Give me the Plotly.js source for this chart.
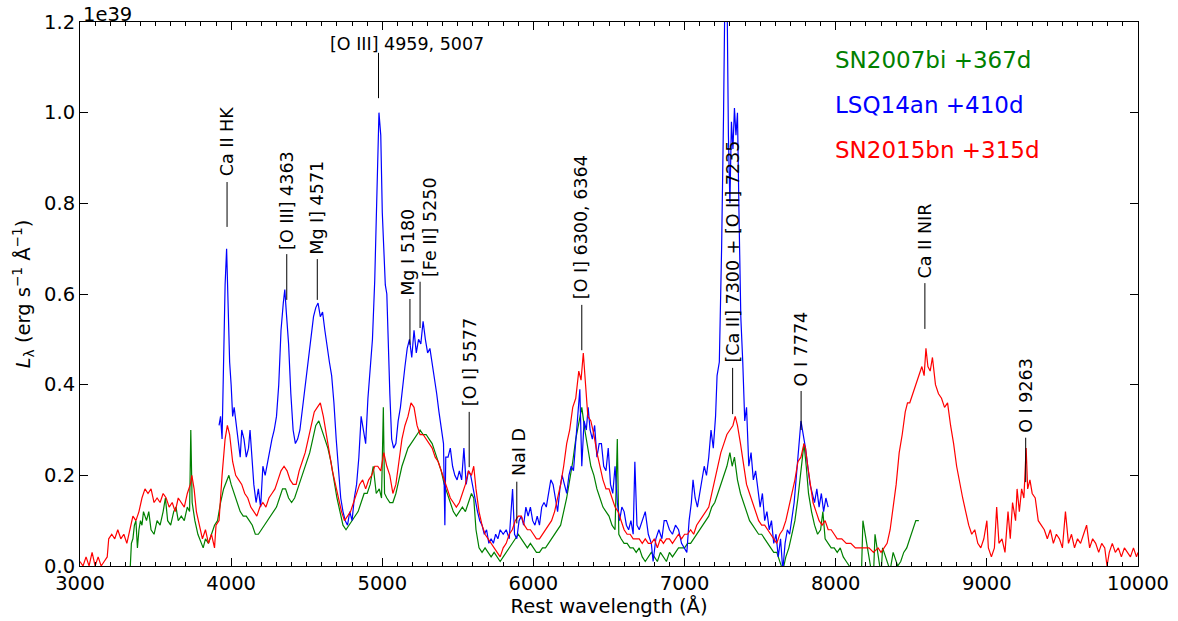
<!DOCTYPE html>
<html>
<head>
<meta charset="utf-8">
<script src="https://cdn.plot.ly/plotly-3.0.1.min.js"></script>
<style>html,body{margin:0;padding:0;background:#fff;}#chart{width:1178px;height:621px;}</style>
</head>
<body>
<div id="chart"></div>
<script>
// ---- Data (luminosity in units of 1e39 erg s^-1 A^-1) ----
const seriesNames = ["SN2007bi +367d", "LSQ14an +410d", "SN2015bn +315d"];

const greenWave = [3330,3340,3350,3360,3370,3380,3390,3400,3410,3420,3440,3455,3470,3490,3510,3530,3550,3565,3580,3600,3620,3635,3650,3670,3690,3710,3725,3733,3742,3760,3780,3800,3815,3830,3850,3870,3890,3910,3930,3950,3970,3985,4000,4020,4040,4060,4080,4100,4120,4140,4160,4180,4200,4220,4240,4260,4280,4300,4320,4340,4360,4380,4400,4420,4440,4460,4480,4500,4520,4540,4560,4580,4600,4620,4640,4660,4680,4700,4720,4740,4760,4780,4800,4820,4840,4860,4880,4900,4920,4940,4960,4980,4995,5007,5015,5030,5050,5070,5090,5110,5130,5150,5170,5190,5210,5230,5250,5270,5290,5310,5330,5350,5370,5390,5410,5430,5450,5470,5490,5510,5530,5550,5570,5590,5605,5620,5640,5660,5680,5700,5720,5740,5760,5780,5800,5820,5840,5860,5880,5900,5920,5940,5960,5980,6000,6020,6040,6060,6080,6100,6120,6140,6160,6180,6200,6220,6240,6260,6280,6300,6320,6340,6360,6380,6400,6420,6440,6460,6480,6500,6520,6540,6555,6565,6580,6600,6620,6640,6660,6680,6700,6720,6740,6760,6780,6800,6820,6840,6860,6880,6900,6920,6940,6960,6980,7000,7020,7040,7060,7080,7100,7120,7140,7160,7180,7200,7220,7240,7260,7280,7300,7315,7330,7350,7370,7390,7410,7430,7450,7470,7490,7510,7530,7550,7570,7590,7610,7630,7650,7670,7690,7710,7730,7750,7770,7790,7805,7820,7840,7860,7880,7900,7915,7930,7950,7970,7990,8010,8030,8050,8070,8090,8110,8170,8180,8240,8250,8260,8300,8310,8360,8380,8410,8430,8450,8470,8490,8510,8530,8550];
const greenLum = [-0.02,0.05,0.06,0.09,0.10,0.04,0.08,0.10,0.09,0.12,0.10,0.12,0.08,0.07,0.10,0.09,0.12,0.15,0.10,0.09,0.12,0.13,0.10,0.11,0.10,0.13,0.12,0.30,0.14,0.10,0.07,0.05,0.04,0.06,0.05,0.07,0.09,0.10,0.14,0.17,0.19,0.20,0.18,0.16,0.14,0.12,0.11,0.11,0.10,0.09,0.07,0.07,0.08,0.09,0.10,0.11,0.12,0.13,0.15,0.17,0.17,0.15,0.14,0.15,0.17,0.19,0.21,0.23,0.25,0.28,0.31,0.32,0.30,0.28,0.26,0.23,0.19,0.15,0.12,0.09,0.08,0.09,0.10,0.11,0.12,0.14,0.16,0.16,0.18,0.22,0.16,0.17,0.15,0.35,0.16,0.15,0.14,0.14,0.16,0.19,0.22,0.24,0.26,0.27,0.28,0.29,0.30,0.29,0.29,0.28,0.27,0.25,0.23,0.21,0.18,0.16,0.14,0.12,0.11,0.12,0.13,0.12,0.14,0.16,0.15,0.08,0.04,0.03,0.04,0.03,0.02,0.03,0.02,0.01,0.02,0.03,0.04,0.05,0.06,0.07,0.06,0.05,0.04,0.05,0.04,0.03,0.03,0.04,0.04,0.05,0.06,0.07,0.08,0.09,0.12,0.15,0.19,0.23,0.28,0.32,0.35,0.30,0.26,0.22,0.20,0.17,0.15,0.13,0.12,0.11,0.09,0.08,0.28,0.07,0.06,0.05,0.05,0.04,0.04,0.03,0.04,0.02,0.01,0.02,0.03,0.02,0.01,0.03,0.02,0.01,0.03,0.02,0.03,0.04,0.04,0.04,0.05,0.05,0.06,0.07,0.08,0.09,0.10,0.11,0.13,0.14,0.16,0.18,0.20,0.22,0.25,0.22,0.24,0.19,0.16,0.14,0.12,0.10,0.09,0.08,0.07,0.07,0.06,0.05,0.04,0.03,0.03,0.01,-0.01,0.02,0.04,0.07,0.10,0.15,0.21,0.27,0.22,0.16,0.12,0.09,0.07,0.08,0.12,0.06,0.05,0.04,0.04,0.03,0.04,0.02,0.01,0.00,-0.02,-0.02,0.10,-0.02,-0.02,0.07,-0.02,0.04,-0.01,0.03,0.00,0.01,0.03,0.04,0.06,0.08,0.10,0.10,0.08];

const blueWave = [3920,3930,3940,3950,3960,3970,3980,3990,4000,4010,4020,4035,4050,4060,4070,4085,4100,4115,4125,4140,4150,4165,4180,4195,4210,4225,4240,4255,4270,4285,4300,4315,4330,4345,4355,4365,4380,4395,4410,4425,4440,4455,4470,4485,4500,4515,4530,4545,4560,4575,4590,4605,4620,4635,4650,4665,4680,4695,4710,4725,4740,4755,4770,4785,4800,4815,4830,4845,4860,4875,4890,4905,4920,4935,4950,4965,4978,4990,5000,5010,5020,5030,5040,5050,5062,5075,5090,5105,5120,5135,5150,5165,5180,5195,5210,5225,5240,5255,5270,5285,5300,5315,5330,5345,5360,5375,5390,5405,5414,5420,5435,5450,5465,5480,5495,5510,5525,5540,5555,5570,5585,5600,5615,5630,5645,5660,5675,5690,5705,5720,5735,5750,5765,5780,5800,5820,5840,5862,5875,5890,5905,5920,5935,5950,5965,5980,5995,6010,6025,6040,6055,6070,6085,6100,6115,6130,6145,6160,6175,6190,6205,6220,6235,6250,6265,6280,6295,6307,6320,6335,6350,6362,6375,6390,6405,6420,6435,6450,6465,6480,6495,6510,6525,6540,6555,6570,6585,6600,6615,6630,6645,6660,6671,6685,6700,6720,6740,6760,6780,6792,6810,6830,6850,6865,6880,6900,6920,6940,6960,6980,7000,7015,7030,7045,7056,7070,7085,7100,7115,7130,7145,7160,7175,7190,7205,7215,7230,7245,7258,7268,7280,7290,7300,7310,7320,7330,7340,7350,7360,7372,7385,7398,7410,7425,7440,7455,7470,7485,7500,7515,7530,7545,7560,7575,7590,7605,7620,7635,7650,7665,7680,7695,7710,7725,7740,7755,7770,7785,7800,7815,7830,7845,7860,7875,7890,7905,7920,7935,7950];
const blueLum = [0.31,0.33,0.28,0.45,0.62,0.70,0.55,0.45,0.40,0.33,0.35,0.31,0.26,0.24,0.30,0.28,0.24,0.26,0.30,0.22,0.18,0.14,0.17,0.13,0.22,0.20,0.23,0.26,0.28,0.30,0.33,0.40,0.52,0.58,0.61,0.56,0.49,0.38,0.30,0.27,0.28,0.30,0.34,0.38,0.43,0.47,0.51,0.55,0.57,0.58,0.55,0.56,0.52,0.48,0.45,0.42,0.36,0.28,0.22,0.15,0.12,0.10,0.09,0.12,0.10,0.15,0.18,0.24,0.33,0.30,0.27,0.37,0.43,0.50,0.63,0.85,1.00,0.95,0.78,0.70,0.62,0.60,0.48,0.38,0.28,0.26,0.27,0.32,0.35,0.40,0.44,0.48,0.50,0.46,0.52,0.47,0.50,0.49,0.54,0.50,0.47,0.48,0.45,0.41,0.38,0.34,0.31,0.27,0.09,0.24,0.24,0.26,0.22,0.20,0.19,0.21,0.19,0.26,0.18,0.21,0.20,0.17,0.15,0.12,0.10,0.09,0.07,0.08,0.05,0.06,0.05,0.07,0.06,0.08,0.07,0.08,0.06,0.17,0.07,0.06,0.10,0.11,0.09,0.13,0.11,0.13,0.10,0.09,0.11,0.09,0.13,0.14,0.13,0.16,0.19,0.18,0.15,0.12,0.17,0.20,0.18,0.16,0.20,0.22,0.21,0.28,0.33,0.39,0.22,0.32,0.30,0.35,0.30,0.28,0.31,0.24,0.27,0.27,0.22,0.21,0.26,0.18,0.16,0.22,0.14,0.10,0.13,0.12,0.09,0.08,0.10,0.07,0.23,0.09,0.08,0.10,0.12,0.07,0.05,0.01,0.06,0.08,0.06,0.10,0.10,0.08,0.07,0.09,0.08,0.05,0.04,0.03,0.10,0.14,0.19,0.15,0.13,0.16,0.18,0.22,0.20,0.24,0.30,0.26,0.33,0.42,0.45,0.70,1.00,1.30,1.30,0.95,0.80,0.98,0.92,1.01,0.95,1.00,0.78,0.55,0.45,0.32,0.35,0.22,0.25,0.19,0.21,0.17,0.13,0.16,0.10,0.12,0.08,0.10,0.05,0.07,0.02,0.06,-0.01,0.05,0.08,0.07,0.10,0.14,0.20,0.27,0.32,0.29,0.26,0.22,0.18,0.16,0.14,0.17,0.13,0.16,0.12,0.15,0.13];

const redWave = [3000,3020,3040,3060,3080,3100,3120,3140,3160,3180,3190,3210,3230,3250,3270,3290,3310,3330,3350,3370,3390,3410,3430,3450,3470,3490,3510,3530,3550,3570,3590,3610,3630,3650,3670,3690,3710,3730,3740,3755,3770,3790,3810,3830,3850,3870,3890,3900,3920,3940,3960,3975,3990,4010,4030,4050,4070,4090,4110,4130,4150,4170,4190,4210,4230,4250,4270,4290,4310,4330,4350,4370,4390,4410,4430,4450,4470,4490,4510,4530,4550,4570,4590,4610,4630,4650,4670,4690,4710,4730,4750,4770,4790,4810,4830,4850,4870,4890,4910,4930,4950,4970,4990,5010,5030,5050,5070,5090,5110,5130,5150,5170,5190,5210,5230,5250,5270,5290,5310,5330,5350,5370,5390,5410,5430,5450,5470,5490,5510,5530,5550,5570,5590,5605,5620,5640,5660,5680,5700,5720,5740,5760,5780,5800,5820,5840,5860,5880,5900,5920,5940,5960,5980,6000,6020,6040,6060,6080,6100,6120,6140,6160,6180,6200,6220,6240,6260,6280,6300,6315,6330,6345,6360,6380,6400,6420,6440,6460,6480,6500,6520,6540,6560,6580,6600,6620,6640,6660,6680,6700,6720,6740,6760,6780,6800,6820,6840,6860,6880,6900,6920,6940,6960,6980,7000,7020,7040,7060,7080,7100,7120,7140,7160,7180,7200,7220,7240,7260,7280,7300,7320,7335,7350,7370,7390,7410,7430,7450,7470,7490,7510,7530,7550,7570,7590,7610,7630,7650,7670,7690,7710,7730,7750,7770,7790,7800,7815,7830,7850,7870,7890,7910,7930,7950,7970,7990,8010,8040,8070,8100,8130,8160,8190,8220,8250,8280,8300,8320,8340,8360,8380,8400,8420,8440,8460,8475,8490,8510,8530,8550,8570,8585,8597,8610,8625,8640,8660,8680,8700,8720,8740,8760,8780,8800,8820,8840,8860,8880,8900,8920,8940,8960,8980,9000,9010,9030,9050,9065,9080,9100,9120,9140,9155,9170,9190,9200,9215,9230,9245,9260,9270,9285,9300,9320,9340,9360,9380,9400,9420,9440,9460,9480,9500,9520,9540,9560,9580,9600,9620,9640,9660,9680,9700,9720,9740,9760,9780,9795,9810,9830,9850,9870,9890,9910,9930,9950,9970,9990,10000];
const redLum = [0.01,0.00,0.02,0.00,0.03,0.00,0.02,0.00,0.01,0.02,0.06,0.07,0.06,0.08,0.06,0.07,0.05,0.08,0.11,0.10,0.12,0.15,0.17,0.16,0.17,0.14,0.15,0.14,0.16,0.15,0.13,0.14,0.12,0.15,0.14,0.13,0.16,0.18,0.20,0.17,0.12,0.09,0.06,0.08,0.05,0.07,0.04,0.09,0.10,0.20,0.28,0.31,0.29,0.23,0.20,0.19,0.18,0.16,0.15,0.13,0.12,0.11,0.13,0.14,0.13,0.15,0.16,0.17,0.19,0.21,0.22,0.21,0.19,0.18,0.18,0.21,0.23,0.25,0.28,0.31,0.34,0.35,0.36,0.33,0.29,0.25,0.21,0.18,0.15,0.12,0.10,0.11,0.12,0.14,0.16,0.18,0.19,0.17,0.19,0.20,0.22,0.22,0.21,0.25,0.22,0.20,0.16,0.18,0.23,0.28,0.31,0.33,0.36,0.35,0.31,0.29,0.29,0.28,0.27,0.26,0.24,0.23,0.21,0.19,0.17,0.15,0.14,0.13,0.14,0.16,0.18,0.21,0.20,0.22,0.17,0.12,0.09,0.07,0.06,0.05,0.04,0.03,0.02,0.04,0.05,0.07,0.08,0.10,0.11,0.11,0.09,0.08,0.08,0.07,0.06,0.06,0.07,0.08,0.09,0.10,0.12,0.15,0.18,0.22,0.27,0.30,0.35,0.37,0.43,0.41,0.47,0.40,0.33,0.32,0.29,0.25,0.22,0.19,0.17,0.17,0.15,0.13,0.12,0.10,0.08,0.07,0.07,0.06,0.06,0.06,0.05,0.06,0.05,0.05,0.06,0.04,0.06,0.05,0.06,0.06,0.05,0.06,0.07,0.06,0.07,0.07,0.08,0.07,0.09,0.10,0.11,0.12,0.13,0.16,0.19,0.22,0.25,0.27,0.29,0.30,0.31,0.33,0.31,0.27,0.22,0.18,0.16,0.14,0.12,0.10,0.09,0.09,0.08,0.07,0.06,0.05,0.07,0.08,0.10,0.13,0.16,0.19,0.23,0.24,0.27,0.26,0.22,0.18,0.14,0.12,0.10,0.09,0.10,0.08,0.08,0.07,0.06,0.06,0.05,0.05,0.04,0.04,0.04,0.04,0.03,0.04,0.03,0.04,0.05,0.08,0.13,0.18,0.25,0.29,0.34,0.36,0.36,0.38,0.40,0.42,0.44,0.42,0.48,0.44,0.43,0.46,0.40,0.38,0.37,0.35,0.36,0.31,0.27,0.22,0.18,0.15,0.12,0.09,0.07,0.08,0.05,0.04,0.06,0.10,0.04,0.02,0.04,0.13,0.05,0.06,0.03,0.12,0.06,0.14,0.10,0.17,0.12,0.17,0.15,0.26,0.17,0.19,0.16,0.15,0.10,0.09,0.08,0.06,0.08,0.05,0.07,0.06,0.04,0.12,0.05,0.07,0.04,0.06,0.05,0.07,0.09,0.04,0.06,0.05,0.03,0.05,0.04,0.00,0.03,0.05,0.03,0.04,0.02,0.04,0.03,0.02,0.04,0.02,0.03];

// Line identifications: label text and rest wavelength of the marker
const lineLabels = ["Ca II HK","[O III] 4363","Mg I] 4571","[O III] 4959, 5007","Mg I 5180","[Fe II] 5250","[O I] 5577","NaI D","[O I] 6300, 6364","[Ca II] 7300 + [O II] 7235","O I 7774","Ca II NIR","O I 9263"];
const lineWaves = [3973,4368,4570,4975,5183,5250,5575,5890,6320,7318,7771,8590,9257];

// ---- Layout (positions / styles) ----
const markBottom = [0.748,0.587,0.587,1.032,0.488,0.525,0.218,0.094,0.476,0.335,0.300,0.523,0.185];
const markTop    = [0.847,0.688,0.677,1.132,0.589,0.627,0.340,0.186,0.576,0.437,0.386,0.624,0.283];
const textY      = [0.937,0.807,0.791,1.152,0.693,0.748,0.450,0.251,0.747,0.693,0.478,0.718,0.377];
const textShift  = [0,0,0,28,-2,10,1,2,0,0,0,0,0];
const textAngle  = [-90,-90,-90,0,-90,-90,-90,-90,-90,-90,-90,-90,-90];

const colors = ["#008000","#0000ff","#ff0000"];
const FONT = "DejaVu Sans, Verdana, sans-serif";

const traces = [
  {x: greenWave, y: greenLum, name: seriesNames[0]},
  {x: blueWave, y: blueLum, name: seriesNames[1]},
  {x: redWave, y: redLum, name: seriesNames[2]}
].map((t, i) => Object.assign(t, {type: "scatter", mode: "lines", line: {color: colors[i], width: 1.2}, hoverinfo: "skip"}));

const shapes = lineWaves.map((w, i) => ({
  type: "line", xref: "x", yref: "y", x0: w, x1: w, y0: markBottom[i], y1: markTop[i],
  line: {color: "#000000", width: 1}
}));

const annotations = lineLabels.map((t, i) => ({
  text: t, x: lineWaves[i], y: textY[i], xref: "x", yref: "y", showarrow: false,
  textangle: textAngle[i], xanchor: "center", yanchor: "middle", xshift: textShift[i],
  font: {family: FONT, size: 17.5, color: "#000000"}
}));

// legend as coloured text
const legendY = [0.930, 0.847, 0.764];
seriesNames.forEach((n, i) => annotations.push({
  text: n, xref: "paper", yref: "paper", x: 0.7117, y: legendY[i], xanchor: "left", yanchor: "middle",
  showarrow: false, font: {family: FONT, size: 23, color: colors[i]}
}));
// offset text
annotations.push({text: "1e39", xref: "paper", yref: "paper", x: 0.0, y: 1.0, xanchor: "left", yanchor: "bottom",
  yshift: -6, xshift: 1, showarrow: false, font: {family: FONT, size: 19.5, color: "#000000"}});

const axisCommon = {
  showgrid: false, zeroline: false, showline: true, linecolor: "#000000", linewidth: 1,
  mirror: "allticks", ticks: "inside", ticklen: 8, tickwidth: 1, tickcolor: "#000000",
  tickfont: {family: FONT, size: 19.5, color: "#000000"}, automargin: false
};

const layout = {
  width: 1178, height: 621,
  margin: {l: 80, r: 40, t: 22, b: 55},
  paper_bgcolor: "#ffffff", plot_bgcolor: "#ffffff",
  showlegend: false,
  xaxis: Object.assign({}, axisCommon, {
    range: [3000, 10000], tick0: 3000, dtick: 1000, tickformat: "d",
    minor: {dtick: 100, ticks: "inside", ticklen: 4, tickcolor: "#000000", tickwidth: 1},
    title: {text: "Rest wavelength (Å)", font: {family: FONT, size: 19.5, color: "#000000"}, standoff: 2}
  }),
  yaxis: Object.assign({}, axisCommon, {
    range: [0, 1.2], tick0: 0, dtick: 0.2, tickformat: ".1f",
    title: {text: "<i>L</i><sub>λ</sub> (erg s<sup>−1</sup> Å<sup>−1</sup>)", font: {family: FONT, size: 19.5, color: "#000000"}, standoff: 8}
  }),
  shapes: shapes,
  annotations: annotations
};

Plotly.newPlot("chart", traces, layout, {staticPlot: true, displayModeBar: false});
</script>
</body>
</html>
